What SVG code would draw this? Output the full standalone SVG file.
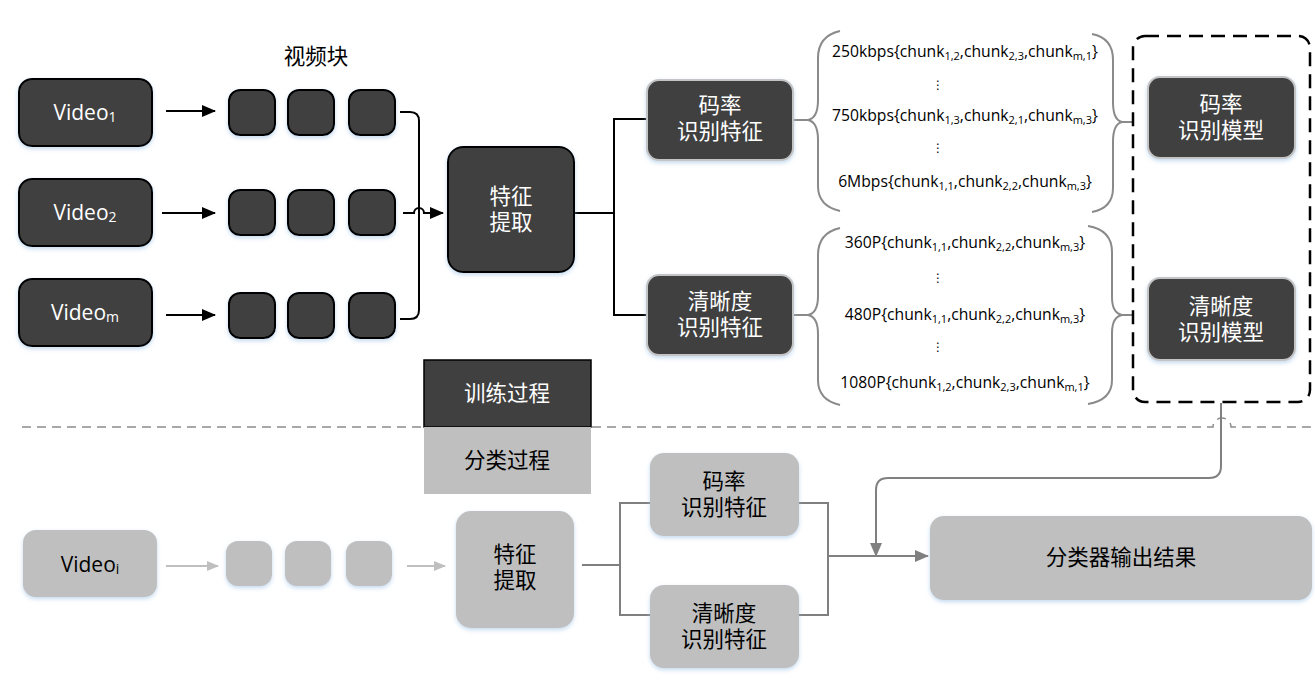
<svg xmlns="http://www.w3.org/2000/svg" width="1315" height="681" viewBox="0 0 1315 681">
<style>
.dk{fill:#404040;stroke:#000;stroke-width:2}
.dkg{fill:#404040;stroke:#c4c4c4;stroke-width:2}
.lg{fill:#bfbfbf;stroke:none}
.t{font-family:"Open Sans","Noto Sans","Noto Sans CJK SC",sans-serif;text-anchor:middle}
.c{font-family:"Noto Sans CJK SC",sans-serif;text-anchor:middle;font-size:21.5px}
.w{fill:#fff}
.b{fill:#000}
.ch{font-family:"Open Sans","Noto Sans",sans-serif;text-anchor:middle;font-size:15.7px;fill:#000}
.dots{font-family:"DejaVu Sans",sans-serif;text-anchor:middle;font-size:12px;fill:#000}
.k{fill:none;stroke:#000;stroke-width:2}
.g{fill:none;stroke:#808080;stroke-width:2}
.gl{fill:none;stroke:#bfbfbf;stroke-width:2}
.br{fill:none;stroke:#8a8a8a;stroke-width:2}
</style>
<defs>
<filter id="sh" x="-20%" y="-20%" width="140%" height="150%">
<feDropShadow dx="0" dy="2" stdDeviation="2" flood-color="#9dc3e6" flood-opacity="0.6"/>
</filter>
<marker id="ak" markerUnits="userSpaceOnUse" markerWidth="14" markerHeight="12" refX="13" refY="6" orient="auto"><path d="M0,0 L14,6 L0,12 Z" fill="#000"/></marker>
<marker id="ag" markerUnits="userSpaceOnUse" markerWidth="14" markerHeight="12" refX="13" refY="6" orient="auto"><path d="M0,0 L14,6 L0,12 Z" fill="#808080"/></marker>
<marker id="al" markerUnits="userSpaceOnUse" markerWidth="12" markerHeight="10" refX="11" refY="5" orient="auto"><path d="M0,0 L12,5 L0,10 Z" fill="#bfbfbf"/></marker>
</defs>

<!-- connectors -->
<g id="connectors">
<line class="k" x1="166" y1="111" x2="215" y2="111" marker-end="url(#ak)"/>
<line class="k" x1="162" y1="213" x2="215" y2="213" marker-end="url(#ak)"/>
<line class="k" x1="166" y1="315" x2="215" y2="315" marker-end="url(#ak)"/>
<path class="k" d="M400,112 H410 Q419,112 419,121 V310 Q419,319 410,319 H400"/>
<path class="k" d="M403,213 H414 A5,5 0 0 1 424,213 H443" marker-end="url(#ak)"/>
<path class="k" d="M574,213 H614 M648,119 H614 V315 H648"/>
<line class="br" x1="793" y1="120" x2="808" y2="120"/>
<line class="br" x1="793" y1="315" x2="808" y2="315"/>
<path class="br" d="M840,31 Q818,36 818,58 V100 Q818,118 808,120 Q818,122 818,140 V186 Q818,206 840,211"/>
<path class="br" d="M1092,34 Q1113,38 1113,60 V102 Q1113,120 1122,122 Q1113,124 1113,142 V188 Q1113,208 1092,212"/>
<line class="br" x1="1122" y1="122" x2="1133" y2="122"/>
<path class="br" d="M840,228 Q818,233 818,255 V296 Q818,313 808,315 Q818,317 818,334 V380 Q818,400 840,405"/>
<path class="br" d="M1088,226 Q1112,230 1112,252 V297 Q1112,313 1122,315 Q1112,317 1112,333 V380 Q1112,400 1088,404"/>
<line class="br" x1="1122" y1="315" x2="1133" y2="315"/>
<path d="M22,427 H1213 A9,9 0 0 1 1231,427 H1315" fill="none" stroke="#8c8c8c" stroke-width="1.5" stroke-dasharray="9 6"/>
<path class="g" d="M1221,403 V466 Q1221,478 1209,478 H888 Q876,478 876,490 V556" marker-end="url(#ag)"/>
<line class="gl" x1="166" y1="566" x2="218" y2="566" marker-end="url(#al)"/>
<line class="gl" x1="407" y1="566" x2="445" y2="566" marker-end="url(#al)"/>
<path class="g" d="M582,565 H620 M650,503 H620 V615 H650"/>
<path class="g" d="M799,503 H828 V615 H799"/>
<line class="g" x1="828" y1="556" x2="928" y2="556" marker-end="url(#ag)"/>
</g>

<text class="c b" x="316" y="64">视频块</text>

<g id="video1"><rect class="dk" x="19" y="79" width="133" height="67" rx="13" filter="url(#sh)"/><text class="t w" x="85" y="120" font-size="21">Video<tspan font-size="14" dy="2">1</tspan></text></g>
<g id="video2"><rect class="dk" x="19" y="179" width="133" height="67" rx="13" filter="url(#sh)"/><text class="t w" x="85" y="220" font-size="21">Video<tspan font-size="14" dy="2">2</tspan></text></g>
<g id="videom"><rect class="dk" x="19" y="279" width="133" height="67" rx="13" filter="url(#sh)"/><text class="t w" x="85" y="320" font-size="21">Video<tspan font-size="14" dy="2">m</tspan></text></g>

<g id="chunks1">
<rect class="dk" x="229" y="90" width="46" height="45" rx="11" filter="url(#sh)"/>
<rect class="dk" x="288" y="90" width="46" height="45" rx="11" filter="url(#sh)"/>
<rect class="dk" x="349" y="90" width="46" height="45" rx="11" filter="url(#sh)"/>
</g>
<g id="chunks2">
<rect class="dk" x="229" y="190" width="46" height="45" rx="11" filter="url(#sh)"/>
<rect class="dk" x="288" y="190" width="46" height="45" rx="11" filter="url(#sh)"/>
<rect class="dk" x="349" y="190" width="46" height="45" rx="11" filter="url(#sh)"/>
</g>
<g id="chunksm">
<rect class="dk" x="229" y="293" width="46" height="45" rx="11" filter="url(#sh)"/>
<rect class="dk" x="288" y="293" width="46" height="45" rx="11" filter="url(#sh)"/>
<rect class="dk" x="349" y="293" width="46" height="45" rx="11" filter="url(#sh)"/>
</g>

<g id="feat-train"><rect class="dk" x="448" y="147" width="126" height="125" rx="15" filter="url(#sh)"/><text class="c w" x="511" y="204">特征</text><text class="c w" x="511" y="230">提取</text></g>

<g id="rate-feat-train"><rect class="dkg" x="647" y="80" width="146" height="80" rx="12" filter="url(#sh)"/><text class="c w" x="720" y="113">码率</text><text class="c w" x="720" y="139">识别特征</text></g>
<g id="res-feat-train"><rect class="dkg" x="647" y="275" width="146" height="80" rx="12" filter="url(#sh)"/><text class="c w" x="720" y="309">清晰度</text><text class="c w" x="720" y="335">识别特征</text></g>

<g id="rate-list">
<text class="ch" x="965" y="57">250kbps{chunk<tspan font-size="11" dy="3">1,2</tspan><tspan dy="-3">,chunk</tspan><tspan font-size="11" dy="3">2,3</tspan><tspan dy="-3">,chunk</tspan><tspan font-size="11" dy="3">m,1</tspan><tspan dy="-3">}</tspan></text>
<text class="dots" x="938" y="89">⋮</text>
<text class="ch" x="965" y="121">750kbps{chunk<tspan font-size="11" dy="3">1,3</tspan><tspan dy="-3">,chunk</tspan><tspan font-size="11" dy="3">2,1</tspan><tspan dy="-3">,chunk</tspan><tspan font-size="11" dy="3">m,3</tspan><tspan dy="-3">}</tspan></text>
<text class="dots" x="938" y="152">⋮</text>
<text class="ch" x="965" y="187">6Mbps{chunk<tspan font-size="11" dy="3">1,1</tspan><tspan dy="-3">,chunk</tspan><tspan font-size="11" dy="3">2,2</tspan><tspan dy="-3">,chunk</tspan><tspan font-size="11" dy="3">m,3</tspan><tspan dy="-3">}</tspan></text>
</g>
<g id="res-list">
<text class="ch" x="965" y="248">360P{chunk<tspan font-size="11" dy="3">1,1</tspan><tspan dy="-3">,chunk</tspan><tspan font-size="11" dy="3">2,2</tspan><tspan dy="-3">,chunk</tspan><tspan font-size="11" dy="3">m,3</tspan><tspan dy="-3">}</tspan></text>
<text class="dots" x="938" y="282">⋮</text>
<text class="ch" x="965" y="320">480P{chunk<tspan font-size="11" dy="3">1,1</tspan><tspan dy="-3">,chunk</tspan><tspan font-size="11" dy="3">2,2</tspan><tspan dy="-3">,chunk</tspan><tspan font-size="11" dy="3">m,3</tspan><tspan dy="-3">}</tspan></text>
<text class="dots" x="938" y="351">⋮</text>
<text class="ch" x="965" y="388">1080P{chunk<tspan font-size="11" dy="3">1,2</tspan><tspan dy="-3">,chunk</tspan><tspan font-size="11" dy="3">2,3</tspan><tspan dy="-3">,chunk</tspan><tspan font-size="11" dy="3">m,1</tspan><tspan dy="-3">}</tspan></text>
</g>

<g id="models">
<rect x="1133" y="36" width="177" height="366" rx="12" fill="none" stroke="#000" stroke-width="2.5" stroke-dasharray="14 8"/>
<g id="rate-model"><rect class="dkg" x="1148" y="77" width="147" height="81" rx="12" filter="url(#sh)"/><text class="c w" x="1221" y="112">码率</text><text class="c w" x="1221" y="138">识别模型</text></g>
<g id="res-model"><rect class="dkg" x="1148" y="278" width="147" height="82" rx="12" filter="url(#sh)"/><text class="c w" x="1221" y="314">清晰度</text><text class="c w" x="1221" y="340">识别模型</text></g>
</g>

<g id="train-label"><rect x="424" y="360" width="167" height="67" fill="#404040" stroke="#000" stroke-width="1.5"/><text class="c w" x="507" y="401">训练过程</text></g>
<g id="classify-label"><rect x="424" y="427" width="167" height="67" fill="#bfbfbf"/><text class="c b" x="507" y="468">分类过程</text></g>

<g id="videoi"><rect class="lg" x="23" y="530" width="134" height="67" rx="13" filter="url(#sh)"/><text class="t b" x="90" y="572" font-size="21">Video<tspan font-size="14" dy="2">i</tspan></text></g>
<g id="chunksi">
<rect class="lg" x="226" y="541" width="46" height="45" rx="12" filter="url(#sh)"/>
<rect class="lg" x="285" y="541" width="46" height="45" rx="12" filter="url(#sh)"/>
<rect class="lg" x="346" y="541" width="46" height="45" rx="12" filter="url(#sh)"/>
</g>
<g id="feat-cls"><rect class="lg" x="456" y="511" width="118" height="117" rx="15" filter="url(#sh)"/><text class="c b" x="515" y="562">特征</text><text class="c b" x="515" y="588">提取</text></g>
<g id="rate-feat-cls"><rect class="lg" x="650" y="453" width="149" height="83" rx="14" filter="url(#sh)"/><text class="c b" x="724" y="489">码率</text><text class="c b" x="724" y="515">识别特征</text></g>
<g id="res-feat-cls"><rect class="lg" x="650" y="585" width="149" height="83" rx="14" filter="url(#sh)"/><text class="c b" x="724" y="621">清晰度</text><text class="c b" x="724" y="647">识别特征</text></g>
<g id="output"><rect class="lg" x="930" y="516" width="382" height="84" rx="14" filter="url(#sh)"/><text class="c b" x="1121" y="565">分类器输出结果</text></g>
</svg>
